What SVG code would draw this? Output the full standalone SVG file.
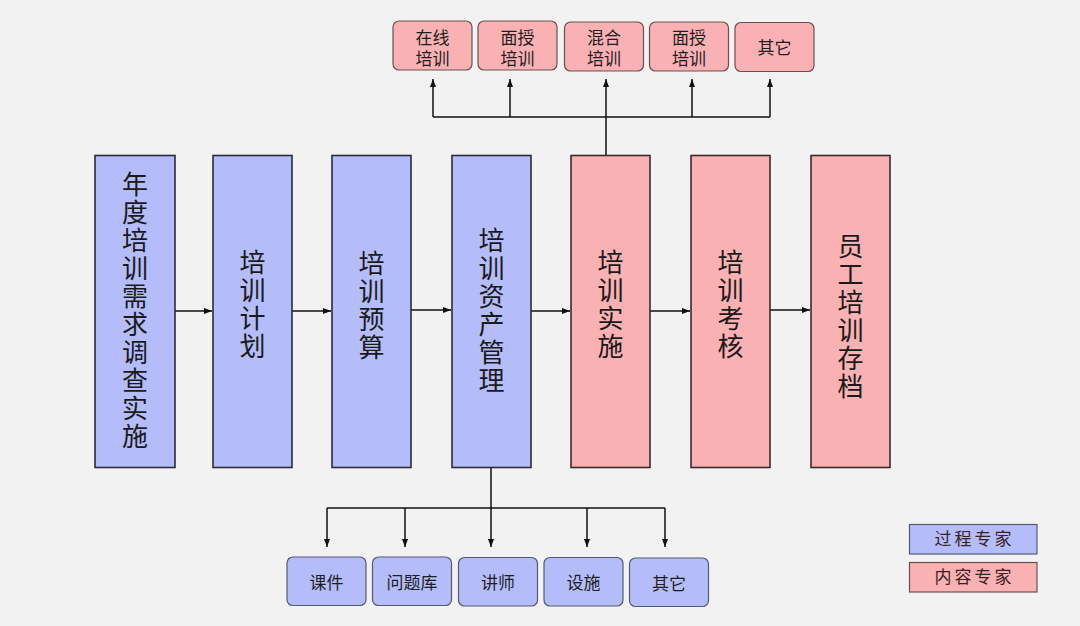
<svg xmlns="http://www.w3.org/2000/svg" width="1080" height="626" viewBox="0 0 1080 626">
<defs>
<marker id="ah" viewBox="0 0 8 8" refX="8" refY="4" markerWidth="8" markerHeight="8" markerUnits="userSpaceOnUse" orient="auto">
<path d="M0,1 L8,4 L0,7 Z" fill="#111"/>
</marker>
<style>
.blue{fill:#b4bdfa;stroke:#2b2b3a;stroke-width:1.6}
.pink{fill:#f9b1b4;stroke:#3a2a2a;stroke-width:1.6}
.sb{fill:#b4bdfa;stroke:#555a70;stroke-width:1.2}
.sp{fill:#f9b1b4;stroke:#6a5050;stroke-width:1.2}
.big{font-family:"Noto Sans CJK SC","Noto Sans",sans-serif;font-size:26px;fill:#1a1a1a;text-anchor:middle;writing-mode:vertical-rl;letter-spacing:2px}
.sm{font-family:"Noto Sans CJK SC","Noto Sans",sans-serif;font-size:17px;fill:#1e1e1e;text-anchor:middle}
.lg{font-family:"Noto Sans CJK SC","Noto Sans",sans-serif;font-size:17px;fill:#3a2222;text-anchor:middle;letter-spacing:3px}
.ln{fill:none;stroke:#111;stroke-width:1.5}
</style>
</defs>
<rect width="1080" height="626" fill="#f2f2f2"/>

<g id="connectors">
<path class="ln" d="M175,311 H212" marker-end="url(#ah)"/>
<path class="ln" d="M292,311 H331" marker-end="url(#ah)"/>
<path class="ln" d="M411,310 H451" marker-end="url(#ah)"/>
<path class="ln" d="M531,311 H570" marker-end="url(#ah)"/>
<path class="ln" d="M650,311 H690" marker-end="url(#ah)"/>
<path class="ln" d="M770,310 H810" marker-end="url(#ah)"/>
<path class="ln" d="M606,155 V117 M433,117 H770"/>
<path class="ln" d="M433,117 V79" marker-end="url(#ah)"/>
<path class="ln" d="M510,117 V79" marker-end="url(#ah)"/>
<path class="ln" d="M606,117 V79" marker-end="url(#ah)"/>
<path class="ln" d="M692,117 V79" marker-end="url(#ah)"/>
<path class="ln" d="M770,117 V79" marker-end="url(#ah)"/>
<path class="ln" d="M491,467 V508 M327,508 H665"/>
<path class="ln" d="M327,508 V547" marker-end="url(#ah)"/>
<path class="ln" d="M405,508 V547" marker-end="url(#ah)"/>
<path class="ln" d="M491,508 V547" marker-end="url(#ah)"/>
<path class="ln" d="M587,508 V547" marker-end="url(#ah)"/>
<path class="ln" d="M665,508 V547" marker-end="url(#ah)"/>
</g>

<g id="n1"><rect class="blue" x="95" y="155.5" width="80" height="312"/>
<text class="big" x="135" y="311">年度培训需求调查实施</text></g>

<g id="n2"><rect class="blue" x="213" y="155.5" width="79" height="312"/>
<text class="big" x="252.5" y="305">培训计划</text></g>

<g id="n3"><rect class="blue" x="332" y="155.5" width="79" height="312"/>
<text class="big" x="371.5" y="306">培训预算</text></g>

<g id="n4"><rect class="blue" x="452" y="155.5" width="79" height="312"/>
<text class="big" x="491.5" y="311">培训资产管理</text></g>

<g id="n5"><rect class="pink" x="571" y="155.5" width="79" height="312"/>
<text class="big" x="610.5" y="305">培训实施</text></g>

<g id="n6"><rect class="pink" x="691" y="155.5" width="79" height="312"/>
<text class="big" x="730.5" y="305">培训考核</text></g>

<g id="n7"><rect class="pink" x="811" y="155.5" width="79" height="312"/>
<text class="big" x="850.5" y="317">员工培训存档</text></g>

<g id="t1"><rect class="sp" x="393" y="21" width="79" height="49" rx="6"/>
<text class="sm"><tspan x="432.5" y="44">在线</tspan><tspan x="432.5" y="65">培训</tspan></text></g>
<g id="t2"><rect class="sp" x="478" y="21" width="79" height="49" rx="6"/>
<text class="sm"><tspan x="517.5" y="44">面授</tspan><tspan x="517.5" y="65">培训</tspan></text></g>
<g id="t3"><rect class="sp" x="564.5" y="22" width="79" height="49" rx="6"/>
<text class="sm"><tspan x="604" y="44">混合</tspan><tspan x="604" y="65">培训</tspan></text></g>
<g id="t4"><rect class="sp" x="649.5" y="22" width="79" height="49" rx="6"/>
<text class="sm"><tspan x="689" y="44">面授</tspan><tspan x="689" y="65">培训</tspan></text></g>
<g id="t5"><rect class="sp" x="735" y="22.5" width="79" height="49" rx="6"/>
<text class="sm" x="774.5" y="54">其它</text></g>

<g id="b1"><rect class="sb" x="287" y="557" width="79" height="48.5" rx="6"/>
<text class="sm" x="326.5" y="589">课件</text></g>
<g id="b2"><rect class="sb" x="372.5" y="557" width="79" height="48.5" rx="6"/>
<text class="sm" x="412" y="589">问题库</text></g>
<g id="b3"><rect class="sb" x="458.5" y="557.5" width="79" height="48.5" rx="6"/>
<text class="sm" x="498" y="589">讲师</text></g>
<g id="b4"><rect class="sb" x="544" y="557.5" width="79" height="48.5" rx="6"/>
<text class="sm" x="583.5" y="589">设施</text></g>
<g id="b5"><rect class="sb" x="629.5" y="558" width="79" height="48.5" rx="6"/>
<text class="sm" x="669" y="590">其它</text></g>

<g id="legend-process"><rect x="909.5" y="524.5" width="127.5" height="29.5" fill="#b4bdfa" stroke="#555a70" stroke-width="1.2"/>
<text class="lg" x="974.5" y="545">过程专家</text></g>
<g id="legend-content"><rect x="909.5" y="562.5" width="127.5" height="29.5" fill="#f9b1b4" stroke="#6a5050" stroke-width="1.2"/>
<text class="lg" x="974.5" y="583">内容专家</text></g>
</svg>
